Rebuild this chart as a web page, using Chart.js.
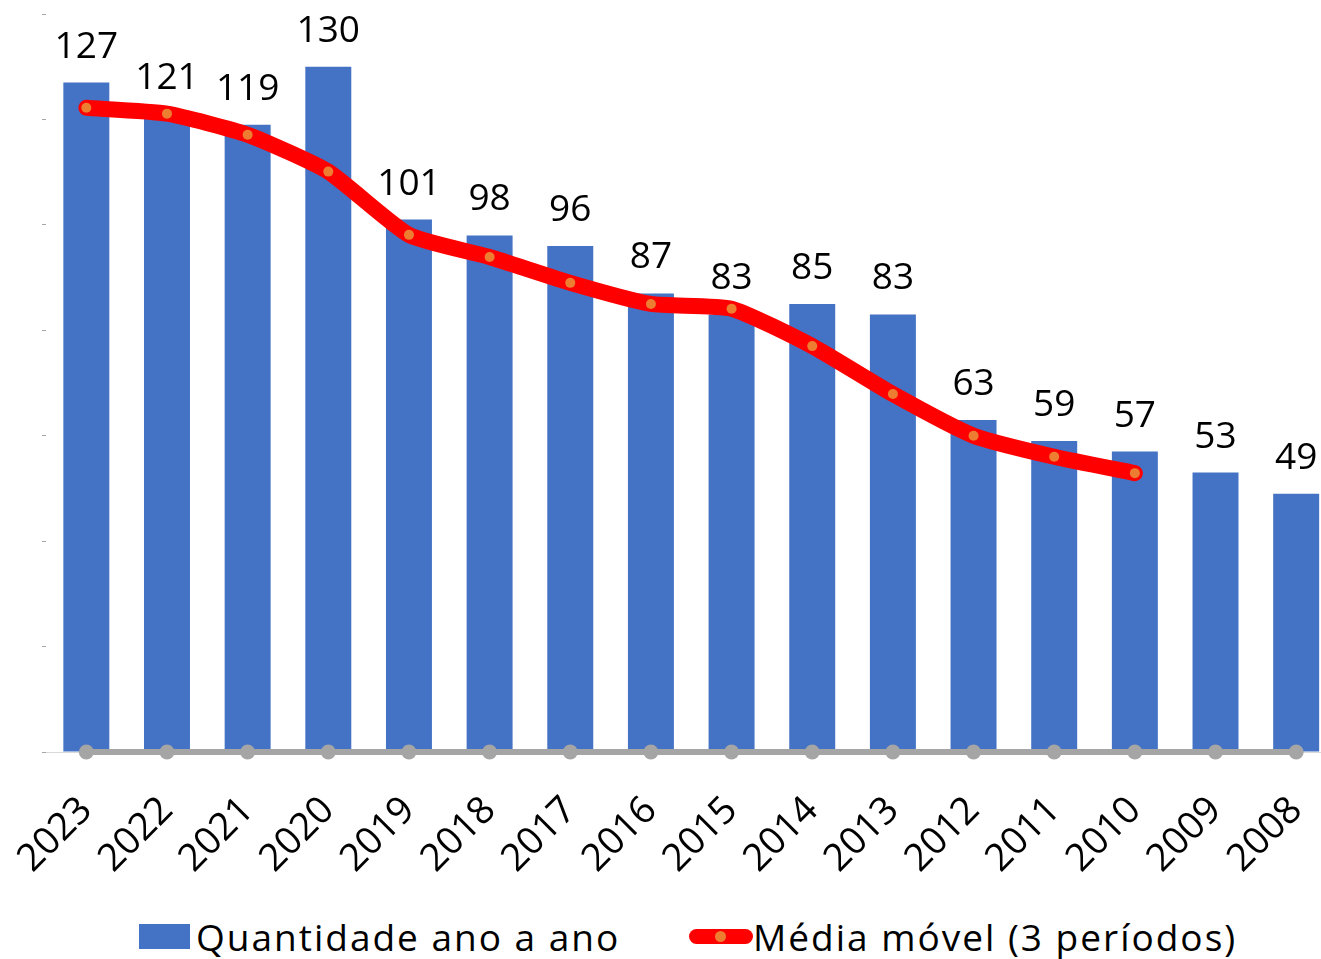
<!DOCTYPE html>
<html lang="pt">
<head>
  <meta charset="UTF-8">
  <title>Quantidade ano a ano</title>
  <script src="https://cdn.jsdelivr.net/npm/chart.js@4.4.4/dist/chart.umd.min.js"></script>
  <style>
    html, body { margin: 0; padding: 0; background: #fff; overflow: hidden; }
    body { width: 1321px; height: 959px; position: relative; font-family: 'Open Sans', sans-serif; }
    #chart { position: absolute; left: 0; top: 0; }
    .legend-item { position: absolute; top: 911px; display: flex; align-items: center; font-size: 37px; letter-spacing: 2px; color: #000; white-space: nowrap; }
    .swatch-bar { width: 51px; height: 25px; background: #4472c4; margin-right: 6px; }
    .swatch-line { width: 64px; height: 15px; background: #ff0000; border-radius: 8px; position: relative; margin-right: 0; }
    .swatch-line::after { content: ''; position: absolute; left: 26px; top: 2px; width: 11px; height: 11px; border-radius: 50%; background: #ed7d31; }
  </style>
</head>
<body>
  <canvas id="chart" width="1344" height="905"></canvas>
  <div class="legend-item" style="left:139px"><span class="swatch-bar"></span>Quantidade ano a ano</div>
  <div class="legend-item" style="left:689px"><span class="swatch-line"></span>Média móvel (3 períodos)</div>

  <script>
    const anos = ['2023', '2022', '2021', '2020', '2019', '2018', '2017', '2016', '2015', '2014', '2013', '2012', '2011', '2010', '2009', '2008'];
    const quantidade = [127, 121, 119, 130, 101, 98, 96, 87, 83, 85, 83, 63, 59, 57, 53, 49];
    const mediaMovel = [122.2, 121.1, 117.1, 110.1, 98.1, 93.9, 89.0, 85.0, 84.1, 77.0, 67.9, 60.0, 56.0, 52.9, null, null];
    const base = [0, 0, 0, 0, 0, 0, 0, 0, 0, 0, 0, 0, 0, 0, 0, 0];
    const yTicks = { min: 0, max: 140, step: 20 };

    const fontFamily = "'Open Sans', sans-serif";

    // rótulos de valor acima das barras
    const barLabels = {
      id: 'barLabels',
      afterDatasetsDraw(chart) {
        const ctx = chart.ctx;
        const meta = chart.getDatasetMeta(0);
        ctx.save();
        ctx.font = `37px ${fontFamily}`;
        ctx.fillStyle = '#000';
        ctx.textAlign = 'center';
        ctx.textBaseline = 'alphabetic';
        meta.data.forEach((bar, i) => {
          ctx.fillText(quantidade[i], bar.x, bar.y - 25);
        });
        ctx.restore();
      }
    };

    new Chart(document.getElementById('chart'), {
      data: {
        labels: anos,
        datasets: [
          {
            type: 'bar',
            label: 'Quantidade ano a ano',
            data: quantidade,
            backgroundColor: '#4472c4',
            barPercentage: 0.57,
            categoryPercentage: 1,
            order: 3
          },
          {
            type: 'line',
            label: 'base',
            data: base,
            borderColor: '#a5a5a5',
            borderWidth: 6,
            pointRadius: 7.5,
            pointBackgroundColor: '#a5a5a5',
            pointBorderWidth: 0,
            clip: false,
            order: 2
          },
          {
            type: 'line',
            label: 'Média móvel (3 períodos)',
            data: mediaMovel,
            borderColor: '#ff0000',
            borderWidth: 16,
            borderCapStyle: 'round',
            borderJoinStyle: 'round',
            tension: 0.18,
            pointRadius: 5,
            pointBackgroundColor: '#ed7d31',
            pointBorderWidth: 0,
            clip: false,
            order: 1
          }
        ]
      },
      options: {
        responsive: false,
        animation: false,
        layout: { padding: { top: 14, right: 0, left: 0, bottom: 0 } },
        plugins: {
          legend: { display: false },
          tooltip: { enabled: false }
        },
        scales: {
          x: {
            offset: true,
            grid: { display: false },
            border: { display: true, color: '#d9d9d9', width: 1 },
            ticks: {
              color: '#000',
              font: { family: fontFamily, size: 38 },
              minRotation: 45,
              maxRotation: 45,
              padding: 28
            },
            afterFit(scale) {
              scale.height = 153;
              scale.paddingLeft = 0;
              scale.paddingRight = 0;
            }
          },
          y: {
            min: yTicks.min,
            max: yTicks.max,
            border: { display: false },
            grid: { drawOnChartArea: false, drawTicks: true, tickLength: 4, color: '#a6a6a6' },
            ticks: { display: false, stepSize: yTicks.step },
            afterFit(scale) { scale.width = 46; }
          }
        }
      },
      plugins: [barLabels]
    });
  </script>
</body>
</html>
